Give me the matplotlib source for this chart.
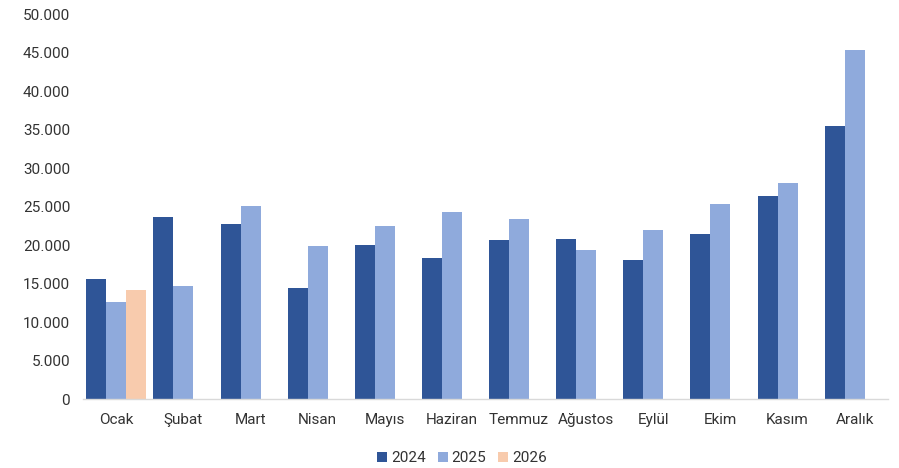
import matplotlib
matplotlib.use('Agg')
import matplotlib.pyplot as plt
from matplotlib.ticker import FuncFormatter
import numpy as np

plt.rcParams['font.family'] = ['Roboto', 'DejaVu Sans']
plt.rcParams['font.size'] = 11

# Data
months = ['Ocak', 'Şubat', 'Mart', 'Nisan', 'Mayıs', 'Haziran', 'Temmuz',
          'Ağustos', 'Eylül', 'Ekim', 'Kasım', 'Aralık']
y2024 = [15600, 23600, 22700, 14400, 20000, 18300, 20600, 20800, 18050, 21400, 26400, 35500]
y2025 = [12600, 14700, 25100, 19900, 22500, 24300, 23400, 19350, 21900, 25300, 28100, 45300]
y2026 = [14200]

colors = ['#2F5597', '#8FAADC', '#F8CBAD']
text_color = '#333333'

fig = plt.figure(figsize=(8.99, 4.68), dpi=100)
ax = fig.add_axes([0.092, 0.1474, 0.896, 0.8226])

x = np.arange(len(months))
width = 0.298

ax.bar(x - width, y2024, width, color=colors[0], label='2024')
ax.bar(x, y2025, width, color=colors[1], label='2025')
ax.bar(x[:len(y2026)] + width, y2026, width, color=colors[2], label='2026')

ax.set_xlim(-0.5, len(months) - 0.5)
ax.set_ylim(0, 50000)
ax.set_yticks(np.arange(0, 50001, 5000))
ax.yaxis.set_major_formatter(FuncFormatter(lambda v, p: f'{v:,.0f}'.replace(',', '.')))
ax.set_xticks(x)
ax.set_xticklabels(months)

for s in ['top', 'right', 'left']:
    ax.spines[s].set_visible(False)
ax.spines['bottom'].set_color('#D9D9D9')
ax.spines['bottom'].set_linewidth(1)
ax.tick_params(axis='both', length=0, colors=text_color, labelsize=11)
ax.tick_params(axis='y', pad=9)
ax.tick_params(axis='x', pad=10)

fig.legend(loc='center', bbox_to_anchor=(462 / 899, 1 - 458 / 468), ncol=3,
           frameon=False, handlelength=0.65, handleheight=0.65, handletextpad=0.25,
           columnspacing=0.8, fontsize=11, labelcolor=text_color)

fig.savefig('out.png', dpi=100, facecolor='white')
